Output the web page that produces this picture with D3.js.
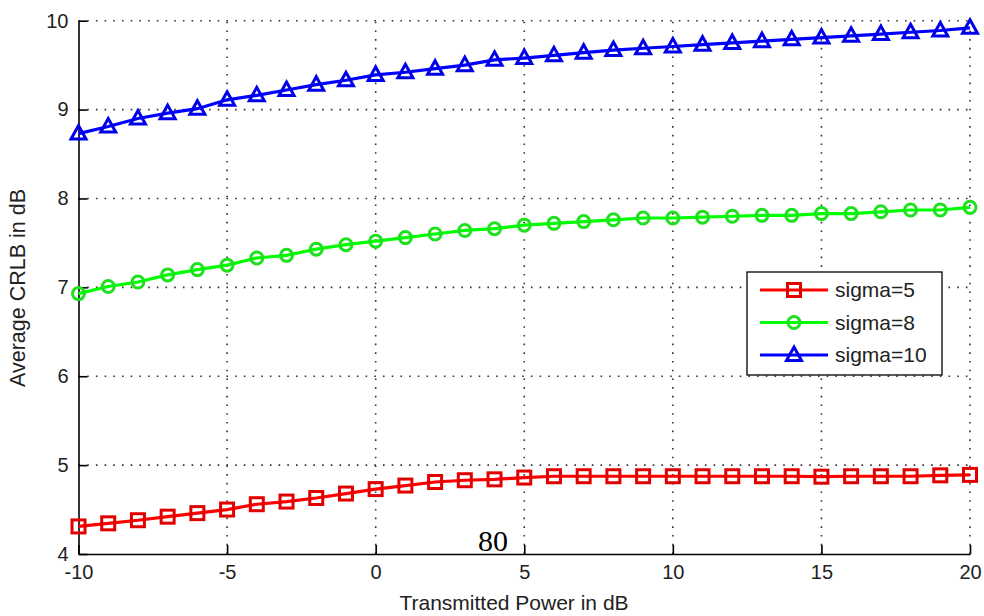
<!DOCTYPE html>
<html>
<head>
<meta charset="utf-8">
<script src="https://cdn.jsdelivr.net/npm/d3@7"></script>
<style>
  body { margin: 0; background: #fff; }
  text { font-family: "Liberation Sans", Arial, sans-serif; }
</style>
</head>
<body>
<svg id="chart"></svg>
<script>
// data
var power = d3.range(-10, 21, 1);
var sigma5 = [4.31, 4.345, 4.38, 4.42, 4.46, 4.50, 4.56, 4.59, 4.63, 4.68, 4.73,
  4.77, 4.81, 4.83, 4.84, 4.86, 4.875, 4.875, 4.875, 4.875, 4.875,
  4.875, 4.875, 4.875, 4.875, 4.87, 4.875, 4.875, 4.875, 4.885, 4.89];
var sigma8 = [6.93, 7.01, 7.06, 7.14, 7.20, 7.25, 7.33, 7.36, 7.43, 7.48, 7.52,
  7.56, 7.60, 7.64, 7.66, 7.70, 7.72, 7.74, 7.76, 7.78, 7.78,
  7.79, 7.80, 7.81, 7.81, 7.83, 7.83, 7.85, 7.87, 7.87, 7.90];
var sigma10 = [8.73, 8.81, 8.90, 8.96, 9.01, 9.11, 9.16, 9.22, 9.28, 9.33, 9.39,
  9.42, 9.46, 9.50, 9.56, 9.58, 9.61, 9.64, 9.67, 9.69, 9.71,
  9.73, 9.75, 9.77, 9.79, 9.81, 9.83, 9.85, 9.87, 9.89, 9.92];
var seriesNames = ['sigma=5', 'sigma=8', 'sigma=10'];
var xTicks = [-10, -5, 0, 5, 10, 15, 20];
var yTicks = [4, 5, 6, 7, 8, 9, 10];

var W = 984, H = 616;
var margin = {top: 20.7, right: 14, bottom: 62, left: 78.5};
var width = W - margin.left - margin.right;
var height = H - margin.top - margin.bottom;

var svg = d3.select('#chart').attr('width', W).attr('height', H);
var g = svg.append('g')
  .attr('transform', 'translate(' + margin.left + ',' + margin.top + ')');

var x = d3.scaleLinear().domain([-10, 20]).range([0, width]);
var y = d3.scaleLinear().domain([4, 10]).range([height, 0]);

// dotted grid
var grid = g.append('g').attr('stroke', '#333').attr('stroke-width', 1.6)
  .attr('stroke-dasharray', '1.6,7.1');
grid.selectAll('.vg').data(xTicks.slice(1)).enter().append('line')
  .attr('x1', d => x(d)).attr('x2', d => x(d))
  .attr('y1', height).attr('y2', 0);
grid.selectAll('.hg').data(yTicks.slice(1)).enter().append('line')
  .attr('y1', d => y(d)).attr('y2', d => y(d))
  .attr('x1', 0).attr('x2', width);

// axes with inward ticks, plain hyphen minus like matlab
var fmt = d => String(d);
var xAxis = d3.axisBottom(x).tickValues(xTicks).tickFormat(fmt)
  .tickSizeInner(-9).tickSizeOuter(0).tickPadding(11);
var yAxis = d3.axisLeft(y).tickValues(yTicks).tickFormat(fmt)
  .tickSizeInner(-9).tickSizeOuter(0).tickPadding(10);

var gx = g.append('g').attr('transform', 'translate(0,' + height + ')').call(xAxis);
var gy = g.append('g').call(yAxis);
[gx, gy].forEach(function(a){
  a.selectAll('path, line').attr('stroke', '#000').attr('stroke-width', 1.6);
  a.selectAll('text').attr('fill', '#222').style('font-size', '20px')
    .style('font-family', '"Liberation Sans", Arial, sans-serif');
});

// axis titles
svg.append('text')
  .attr('x', 514).attr('y', 610)
  .attr('text-anchor', 'middle').style('font-size', '21px').attr('fill', '#222')
  .text('Transmitted Power in dB');
svg.append('text')
  .attr('transform', 'translate(25,' + 288 + ') rotate(-90)')
  .attr('text-anchor', 'middle').style('font-size', '21.5px').attr('fill', '#222')
  .text('Average CRLB in dB');

// series
var series = [
  {name: seriesNames[0], vals: sigma5, line: '#ff0000', mark: '#e00000', shape: 'square'},
  {name: seriesNames[1], vals: sigma8, line: '#00ff00', mark: '#1ee01e', shape: 'circle'},
  {name: seriesNames[2], vals: sigma10, line: '#0000ff', mark: '#0000e8', shape: 'triangle'}
];

function drawMarker(sel, shape, color) {
  if (shape === 'square') {
    sel.append('rect').attr('x', -6.5).attr('y', -6.5).attr('width', 13).attr('height', 13)
      .attr('fill', 'none').attr('stroke', color).attr('stroke-width', 3);
  } else if (shape === 'circle') {
    sel.append('circle').attr('r', 6).attr('fill', 'none')
      .attr('stroke', color).attr('stroke-width', 3);
  } else {
    sel.append('path').attr('d', 'M0,-8L7.5,5.5L-7.5,5.5Z').attr('fill', 'none')
      .attr('stroke', color).attr('stroke-width', 3).attr('stroke-linejoin', 'miter');
  }
}

var line = d3.line().x(d => x(d[0])).y(d => y(d[1]));

series.forEach(function(s){
  var pts = power.map((p, i) => [p, s.vals[i]]);
  g.append('path').datum(pts).attr('d', line)
    .attr('fill', 'none').attr('stroke', s.line).attr('stroke-width', 3.2);
  g.append('g').selectAll('g').data(pts).enter().append('g')
    .attr('transform', d => 'translate(' + x(d[0]) + ',' + y(d[1]) + ')')
    .each(function(){ drawMarker(d3.select(this), s.shape, s.mark); });
});

// legend
var leg = svg.append('g').attr('transform', 'translate(747,272)');
leg.append('rect').attr('width', 195).attr('height', 103)
  .attr('fill', '#fff').attr('stroke', '#000').attr('stroke-width', 1.3);
series.forEach(function(s, i){
  var row = leg.append('g').attr('transform', 'translate(0,' + (18 + i * 32.5) + ')');
  row.append('line').attr('x1', 13).attr('x2', 81)
    .attr('stroke', s.line).attr('stroke-width', 3);
  drawMarker(row.append('g').attr('transform', 'translate(47,0)'), s.shape, s.mark);
  row.append('text').attr('x', 88).attr('dy', '0.35em')
    .style('font-size', '21px').attr('fill', '#222').text(s.name);
});

// stray page number in the picture
svg.append('text').attr('x', 493).attr('y', 551).attr('text-anchor', 'middle')
  .style('font-family', '"Liberation Serif", "Times New Roman", serif')
  .style('font-size', '30px').attr('fill', '#000').text('80');
</script>
</body>
</html>
